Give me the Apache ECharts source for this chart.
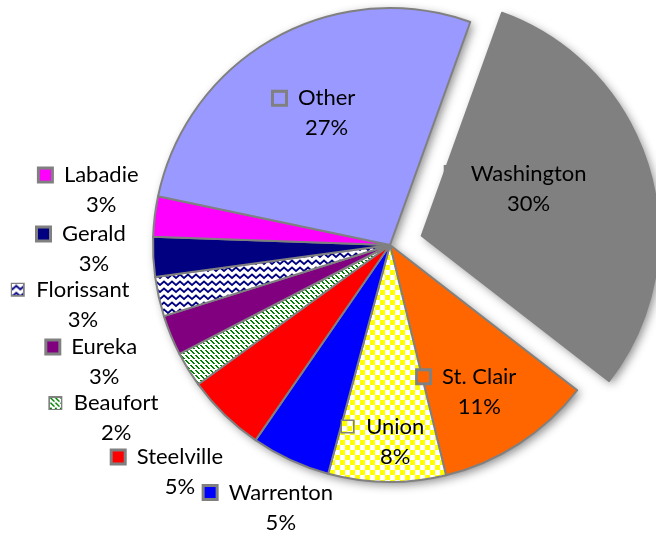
<!DOCTYPE html>
<html>
<head>
<meta charset="utf-8">
<script src="https://cdn.jsdelivr.net/npm/echarts@6.0.0/dist/echarts.min.js"></script>
<style>
  html, body { margin: 0; padding: 0; background: #fff; }
  #townPie { width: 656px; height: 539px; }
</style>
</head>
<body>
<div id="townPie"></div>
<script>
const towns = ['Washington', 'St. Clair', 'Union', 'Warrenton', 'Steelville', 'Beaufort', 'Eureka', 'Florissant', 'Gerald', 'Labadie', 'Other']
const shares = [30.0, 10.7, 8.0, 5.4, 5.4, 2.4, 2.75, 2.7, 2.7, 2.75, 27.2]

// fill of each slice: a colour or the name of a pattern tile
const fills = ['#808080', '#FF6600', 'checker', '#0000FF', '#FF0000', 'diag', '#800080', 'zigzag', '#000080', '#FF00FF', '#9999FF']
// label centre: distance from the pie centre (share of radius) and a small turn (degrees) off the mid angle
const labelDist = [0.585, 0.70, 0.83, 1.22, 1.34, 1.41, 1.35, 1.37, 1.30, 1.29, 0.64]
const labelTurn = [-7.6, 4.6, 0.9, -0.7, -0.4, 0.3, 0.7, 1.9, 2.1, 3.5, 0]

const CX = 390, CY = 245, R = 237

// pattern tiles
function makeTile(kind) {
  const c = document.createElement('canvas')
  const ctx = c.getContext('2d')
  if (kind === 'checker') {
    c.width = c.height = 10
    ctx.fillStyle = '#fff'; ctx.fillRect(0, 0, 10, 10)
    ctx.fillStyle = '#FFFF00'; ctx.fillRect(0, 0, 5, 5); ctx.fillRect(5, 5, 5, 5)
  } else if (kind === 'diag') {
    c.width = c.height = 10
    ctx.fillStyle = '#fff'; ctx.fillRect(0, 0, 10, 10)
    ctx.fillStyle = '#008000'
    for (let y = 0; y < 10; y++) {
      for (let x = 0; x < 10; x++) {
        const d = (((x - y) % 5) + 5) % 5
        if (d < 2 && y % 5 !== 4) ctx.fillRect(x, y, 1, 1)
      }
    }
  } else if (kind === 'zigzag') {
    c.width = 8; c.height = 7
    ctx.fillStyle = '#fff'; ctx.fillRect(0, 0, 8, 7)
    ctx.strokeStyle = '#000080'; ctx.lineWidth = 1.7
    ctx.beginPath(); ctx.moveTo(-2, 3); ctx.lineTo(0, 5); ctx.lineTo(4, 1.5); ctx.lineTo(8, 5); ctx.lineTo(10, 3); ctx.stroke()
  }
  return c
}

function sliceFill(f) {
  return f.charAt(0) === '#' ? f : { image: makeTile(f), repeat: 'repeat' }
}

function keyFill(f) {
  if (f.charAt(0) === '#') return f
  const c = document.createElement('canvas')
  c.width = c.height = 11
  const ctx = c.getContext('2d')
  ctx.fillStyle = ctx.createPattern(makeTile(f), 'repeat')
  ctx.fillRect(0, 0, 11, 11)
  return { image: c }
}

const font = 'Lato, "Open Sans", sans-serif'
const rich = {
  s: { width: 13, align: 'center' },
  q: { width: 24, align: 'center' },
  n: { fontSize: 22, fontFamily: font, color: '#000', lineHeight: 30, align: 'center' },
}
fills.forEach((f, i) => {
  rich['k' + i] = { width: 11, height: 11, backgroundColor: keyFill(f), borderColor: '#808080', borderWidth: 3, align: 'center' }
})

const sliceData = towns.map((t, i) => ({
  name: t,
  value: shares[i],
  selected: i === 0,
  itemStyle: { color: sliceFill(fills[i]) },
}))
const shadowData = towns.map((t, i) => ({ name: t, value: shares[i], selected: i === 0 }))
const labelData = towns.map((t, i) => ({ name: t, value: shares[i] }))

const pieBase = {
  type: 'pie',
  center: [CX, CY],
  radius: R,
  startAngle: 70.2,
  clockwise: true,
  selectedMode: 'single',
  selectedOffset: 33,
  avoidLabelOverlap: false,
  emphasis: { disabled: true },
  labelLine: { show: false },
}

const chart = echarts.init(document.getElementById('townPie'))
const option = {
  animation: false,
  backgroundColor: '#fff',
  series: [
    // soft drop shadow behind the slices
    Object.assign({}, pieBase, {
      silent: true,
      z: 1,
      data: shadowData,
      label: { show: false },
      itemStyle: {
        color: '#fff',
        borderWidth: 0,
        shadowBlur: 10,
        shadowOffsetX: 3,
        shadowOffsetY: 3,
        shadowColor: 'rgba(0,0,0,0.45)',
      },
    }),
    Object.assign({}, pieBase, {
      z: 2,
      data: sliceData,
      itemStyle: { borderColor: '#808080', borderWidth: 2 },
      label: { show: false },
    }),
    // labels on an unexploded, see-through copy so they can be placed freely
    Object.assign({}, pieBase, {
      z: 3,
      silent: true,
      selectedMode: false,
      data: labelData,
      itemStyle: { color: 'rgba(0,0,0,0)', borderWidth: 0 },
      label: {
        show: true,
        position: 'inside',
        fontFamily: font,
        fontSize: 22,
        color: '#000',
        formatter: (p) => `{k${p.dataIndex}|}{s|}{n|${p.name}}\n{q|}{n|${Math.round(p.percent)}%}`,
        rich: rich,
      },
      labelLayout: (p) => {
        const i = p.dataIndex
        const r = p.labelRect
        const dx = r.x + r.width / 2 - CX
        const dy = r.y + r.height / 2 - CY
        const len = Math.hypot(dx, dy) || 1
        const a = (labelTurn[i] * Math.PI) / 180
        const ux = dx / len, uy = dy / len
        const vx = ux * Math.cos(a) - uy * Math.sin(a)
        const vy = ux * Math.sin(a) + uy * Math.cos(a)
        const d = labelDist[i] * R
        return { x: CX + vx * d, y: CY + vy * d, align: 'center', verticalAlign: 'middle' }
      },
    }),
  ],
}
chart.setOption(option)
</script>
</body>
</html>
